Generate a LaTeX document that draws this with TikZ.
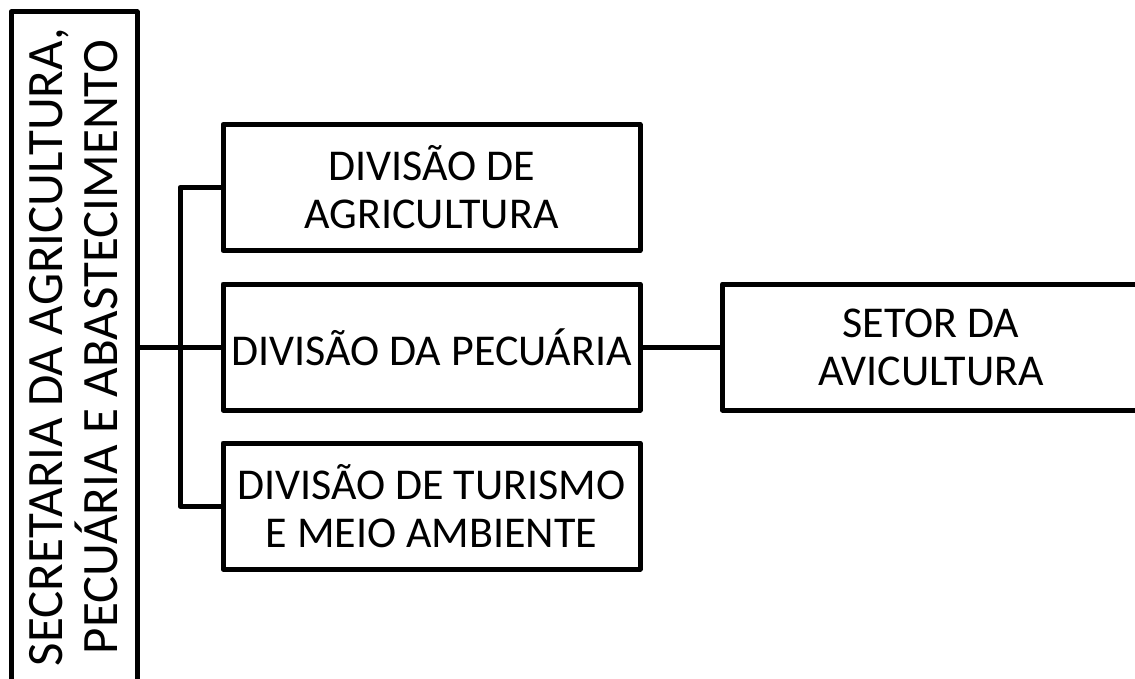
\documentclass[tikz,border=0pt]{standalone}
\usepackage{fontspec}
\setmainfont{Carlito}

\begin{document}
\begin{tikzpicture}[x=1pt,y=-1pt,
  box/.style={draw,line width=5pt,line join=round,inner sep=0pt,
    minimum width=417pt,minimum height=126pt,align=center,
    font=\fontsize{44}{48}\selectfont},
  link/.style={line width=5pt,line join=round},
]
\clip (0,0) rectangle (1135,679);
\node[box,rotate=90,minimum width=670pt,font=\fontsize{51}{55}\selectfont]
  (secretaria) at (74,347) {SECRETARIA DA AGRICULTURA,\\PECUÁRIA E ABASTECIMENTO};
\node[box] (agricultura) at (431.5,187.5) {DIVISÃO DE\\AGRICULTURA};
\node[box] (pecuaria) at (431.5,347) {DIVISÃO DA PECUÁRIA};
\node[box] (turismo) at (431.5,506) {DIVISÃO DE TURISMO\\E MEIO AMBIENTE};
\node[box] (avicultura) at (931,347) {SETOR DA\\AVICULTURA};
\coordinate (bus) at (180,347);
\draw[link] (secretaria.south) -- (pecuaria.west);
\draw[link] (agricultura.west) -| (bus) |- (turismo.west);
\draw[link] (pecuaria.east) -- (avicultura.west);% setor
\end{tikzpicture}
\end{document}
